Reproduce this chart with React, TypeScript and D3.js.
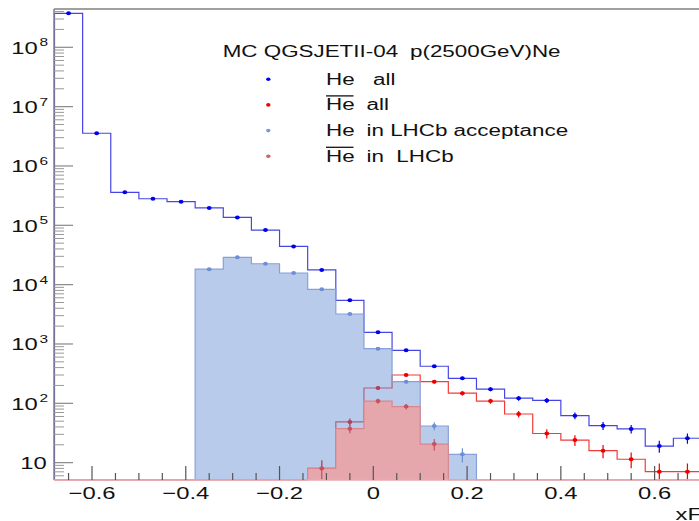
import React from 'react';
import * as d3 from 'd3';

const W = 699;
const H = 521;

// Histogram binning (xF)
const X_MIN = -0.68;
const BIN_W = 0.06;
const N_BINS = 23;

// Bin contents (bins centred at -0.65, -0.59, ..., 0.67)
const heAll = [3.74e8, 3.56e6, 3.6e5, 2.8e5, 2.5e5, 1.96e5, 1.36e5, 8.3e4, 4.4e4, 1.77e4, 5450, 1574, 783, 421, 264, 173, 122, 112, 62, 42, 37, 19, 25.8];
const heBarAll = [0, 0, 0, 0, 0, 0, 0, 0, 0, 8.0, 48.5, 181, 300, 232, 148, 109, 66, 31, 24, 15.9, 11.4, 7.05, 7.05];
const heLHCb = [0, 0, 0, 0, 0, 1.82e4, 2.89e4, 2.25e4, 1.57e4, 8350, 3200, 834, 232, 41.5, 13.8, 0, 0, 0, 0, 0, 0, 0, 0];
const heBarLHCb = [0, 0, 0, 0, 0, 0, 0, 0, 0, 8.0, 37.4, 109, 88, 20.6, 0, 0, 0, 0, 0, 0, 0, 0, 0];

const xMajorTicks = [-0.6, -0.4, -0.2, 0, 0.2, 0.4, 0.6];
const xTickLabels = ['\u22120.6', '\u22120.4', '\u22120.2', '0', '0.2', '0.4', '0.6'];
const yDecades = [1, 2, 3, 4, 5, 6, 7, 8];

const legendTitleA = 'MC QGSJETII-04';
const legendTitleB = 'p(2500GeV)Ne';
const legendEntries = [
  { he: 'He', bar: false, rest: 'all', restDx: 47, color: '#0000f0' },
  { he: 'He', bar: true, rest: 'all', restDx: 40.5, color: '#ee0000' },
  { he: 'He', bar: false, rest: 'in LHCb acceptance', restDx: 40.5, color: '#7d98d2' },
  { he: 'He', bar: true, rest: 'in  LHCb', restDx: 40.5, color: '#c8646e' },
];
const xTitle = 'xF';

// layout
const FL = 54; // frame left
const FT = 9; // frame top
const FB = 480; // frame bottom
const FR = 702;
const SX = 1.4; // horizontal stretch of the text

const binEdges = d3.range(N_BINS + 1).map((i) => X_MIN + BIN_W * i);
const x = d3.scaleLinear().domain([X_MIN, X_MIN + BIN_W * N_BINS]).range([54.5, 701.5]);
const y = d3.scaleLog().domain([5.1, 4.42e8]).range([FB, FT]);
const yv = (v: number) => (v > 0 ? Math.min(FB, y(v)) : FB);

function stepPoints(vals: number[]): [number, number][] {
  const pts: [number, number][] = [[x(binEdges[0]), FB]];
  vals.forEach((v, i) => {
    pts.push([x(binEdges[i]), yv(v)]);
    pts.push([x(binEdges[i + 1]), yv(v)]);
  });
  pts.push([x(binEdges[N_BINS]), FB]);
  return pts;
}

const lineGen = d3.line<[number, number]>().x((d) => d[0]).y((d) => d[1]);
const areaGen = d3.area<[number, number]>().x((d) => d[0]).y0(FB).y1((d) => d[1]);

function T(props: { x: number; y: number; size: number; anchor?: string; children: any; fill?: string }) {
  return (
    <text
      transform={`translate(${props.x},${props.y}) scale(${SX},1)`}
      fontSize={props.size}
      textAnchor={props.anchor || 'start'}
      fill={props.fill || '#111'}
      fontFamily="'Liberation Sans', Arial, sans-serif"
      style={{ whiteSpace: 'pre' }}
    >
      {props.children}
    </text>
  );
}

function Markers({ vals, color }: { vals: number[]; color: string }) {
  return (
    <g>
      {vals.map((v, i) => {
        if (!(v > 0)) return null;
        const cx = x((binEdges[i] + binEdges[i + 1]) / 2);
        const s = Math.sqrt(v);
        const y1 = y(v + s);
        const y2 = v - s > 0 ? y(v - s) : FB + 20;
        return (
          <g key={i}>
            <line x1={cx} x2={cx} y1={y1} y2={y2} stroke={color} strokeWidth={1.2} />
            <ellipse cx={cx} cy={y(v)} rx={2.4} ry={2.0} fill={color} />
          </g>
        );
      })}
    </g>
  );
}

export default function App() {
  const blueAllPts = stepPoints(heAll);
  const redAllPts = stepPoints(heBarAll);
  const blueLPts = stepPoints(heLHCb);
  const redLPts = stepPoints(heBarLHCb);

  const xMinor = d3.range(-13, 15).map((k) => k * 0.05).filter((v) => v < 0.7);
  const yMinor: number[] = [];
  for (let d = 0; d <= 8; d++) {
    for (let m = 2; m <= 9; m++) {
      const v = m * Math.pow(10, d);
      if (v > 5.1 && v < 4.42e8) yMinor.push(v);
    }
  }

  return (
    <svg width={W} height={H} style={{ position: 'absolute', left: 0, top: 0, background: '#fff' }}>
      <defs>
        <clipPath id="plot">
          <rect x={FL} y={FT} width={FR - FL} height={FB - FT + 0.5} />
        </clipPath>
      </defs>
      <rect x={0} y={0} width={W} height={H} fill="#fff" />

      <g clipPath="url(#plot)">
        {/* He all */}
        <path d={lineGen(blueAllPts) || ''} fill="none" stroke="#4646e4" strokeWidth={1.2} />
        <Markers vals={heAll} color="#0000f0" />
        {/* He-bar all */}
        <path d={lineGen(redAllPts) || ''} fill="none" stroke="#f03c3c" strokeWidth={1.2} />
        <Markers vals={heBarAll} color="#ee0000" />
        {/* He in LHCb */}
        <path d={areaGen(blueLPts) || ''} fill="rgb(100,140,210)" fillOpacity={0.45} stroke="none" />
        <path d={lineGen(blueLPts) || ''} fill="none" stroke="#86a0da" strokeWidth={1.2} />
        <Markers vals={heLHCb} color="#6f8fd4" />
        {/* He-bar in LHCb */}
        <path d={areaGen(redLPts) || ''} fill="#e5a7ab" stroke="none" />
        <path d={lineGen(redLPts) || ''} fill="none" stroke="#d8878f" strokeWidth={1.2} />
        <Markers vals={heBarLHCb} color="#c8505f" />
      </g>

      {/* frame */}
      <line x1={FL} x2={FR} y1={FT} y2={FT} stroke="#808080" strokeWidth={1.5} />
      <line x1={FL} x2={FL} y1={FT} y2={FB} stroke="#808080" strokeWidth={1.5} />
      <line x1={FL} x2={FR} y1={FB} y2={FB} stroke="#e8a9ad" strokeWidth={1.5} />

      {/* y ticks */}
      {yDecades.map((d) => (
        <line key={'ym' + d} x1={FL} x2={FL + 19} y1={y(Math.pow(10, d))} y2={y(Math.pow(10, d))} stroke="#888" strokeWidth={1.2} />
      ))}
      {yMinor.map((v, i) => (
        <line key={'yn' + i} x1={FL} x2={FL + 10} y1={y(v)} y2={y(v)} stroke="#999" strokeWidth={1} />
      ))}
      {/* x ticks */}
      {xMinor.map((v, i) => {
        const major = Math.abs(Math.round(v / 0.05)) % 4 === 0;
        return (
          <line key={'xt' + i} x1={x(v)} x2={x(v)} y1={FB} y2={FB - (major ? 14 : 7)} stroke="#555" strokeWidth={1.2} />
        );
      })}

      {/* y labels */}
      {yDecades.map((d) => {
        const ty = y(Math.pow(10, d));
        if (d === 1) {
          return (
            <T key={'yl' + d} x={46.7} y={ty + 6.5} size={17} anchor="end">
              10
            </T>
          );
        }
        return (
          <g key={'yl' + d}>
            <T x={37.7} y={ty + 6.5} size={17} anchor="end">
              10
            </T>
            <T x={39.5} y={ty - 1} size={11}>
              {String(d)}
            </T>
          </g>
        );
      })}

      {/* x labels */}
      {xMajorTicks.map((v, i) => (
        <T key={'xl' + i} x={x(v)} y={499} size={17} anchor="middle">
          {xTickLabels[i]}
        </T>
      ))}
      <T x={FR} y={519.5} size={17} anchor="end">
        {xTitle}
      </T>

      {/* legend */}
      <T x={222.7} y={56.7} size={16}>
        {legendTitleA}
      </T>
      <T x={410} y={56.7} size={16}>
        {legendTitleB}
      </T>
      {legendEntries.map((e, i) => {
        const by = 84.5 + i * 25.7;
        return (
          <g key={'lg' + i}>
            <ellipse cx={268.3} cy={by - 5.3} rx={2.2} ry={1.8} fill={e.color} />
            <T x={326} y={by} size={16}>
              {e.he}
            </T>
            {e.bar ? <line x1={326} x2={353.5} y1={by - 14.3} y2={by - 14.3} stroke="#111" strokeWidth={1.3} /> : null}
            <T x={326 + e.restDx} y={by} size={16}>
              {e.rest}
            </T>
          </g>
        );
      })}
    </svg>
  );
}
